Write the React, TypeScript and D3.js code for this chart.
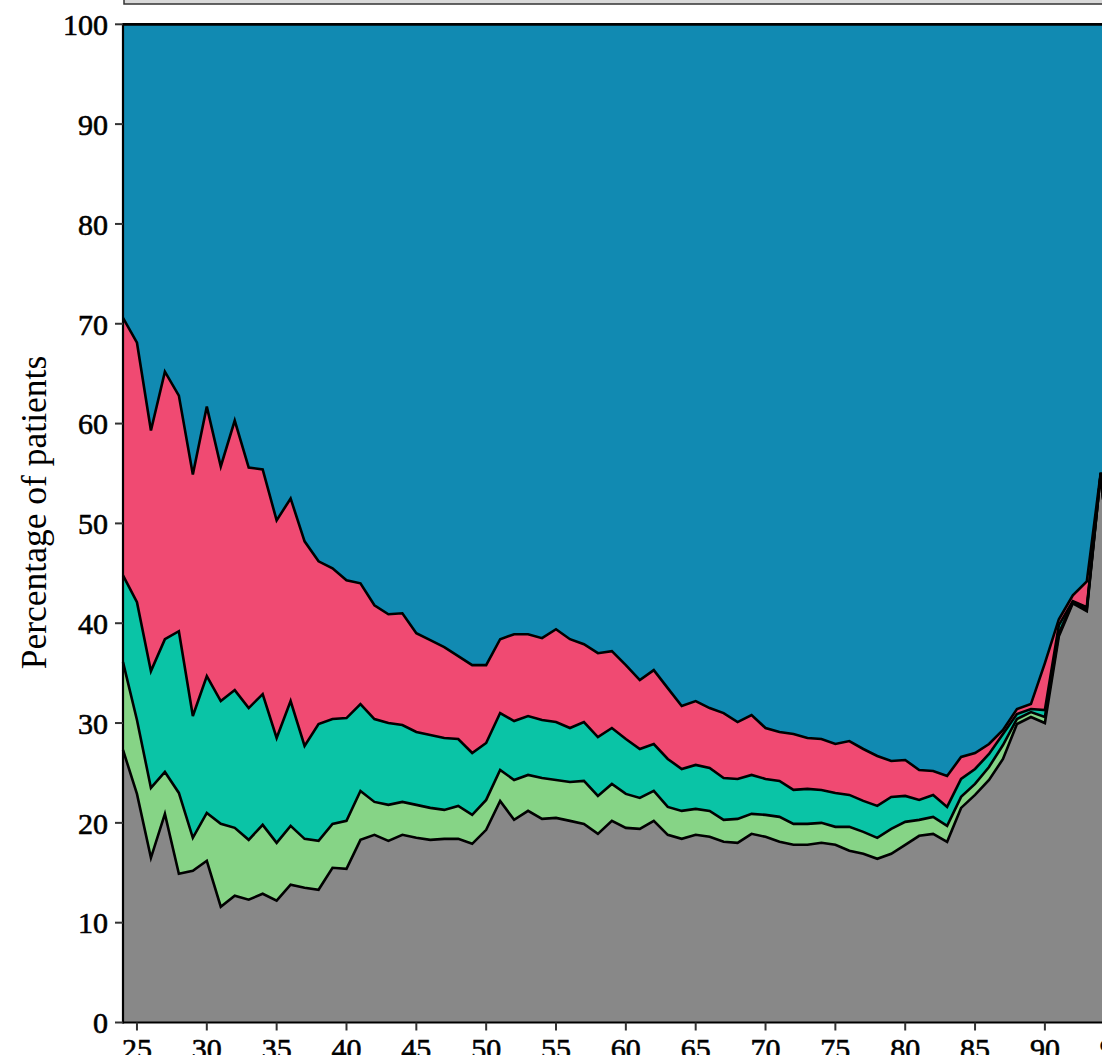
import React, { useEffect, useRef } from 'react';
import * as d3 from 'd3';

// ages 24..95, one point per year
const ages = d3.range(24, 96);

// share of patients (%) per group
const grayValues = [
  27.3, 22.9, 16.5, 20.9, 14.9, 15.2, 16.2, 11.6, 12.7, 12.3, 12.9, 12.2, 13.8, 13.5, 13.3, 15.5,
  15.4, 18.3, 18.8, 18.2, 18.8, 18.5, 18.3, 18.4, 18.4, 17.9, 19.3, 22.2, 20.3, 21.2, 20.4, 20.5,
  20.2, 19.9, 18.9, 20.2, 19.5, 19.4, 20.2, 18.8, 18.4, 18.8, 18.6, 18.1, 18.0, 18.9, 18.6, 18.1,
  17.8, 17.8, 18.0, 17.8, 17.2, 16.9, 16.4, 16.9, 17.8, 18.7, 18.9, 18.1, 21.5, 22.8, 24.3, 26.4,
  29.9, 30.6, 30.0, 38.7, 42.0, 41.2, 55.0, 40.0,
];
const greenValues = [
  8.8, 7.4, 7.0, 4.2, 8.1, 3.3, 4.8, 8.3, 6.8, 6.0, 6.9, 5.8, 5.9, 4.9, 4.9, 4.4,
  4.8, 4.9, 3.3, 3.6, 3.3, 3.3, 3.2, 2.9, 3.3, 2.9, 3.0, 3.1, 4.0, 3.6, 4.1, 3.8,
  3.9, 4.3, 3.8, 3.7, 3.4, 3.1, 3.0, 2.8, 2.8, 2.6, 2.6, 2.2, 2.4, 2.0, 2.2, 2.5,
  2.1, 2.1, 2.0, 1.8, 2.4, 2.2, 2.1, 2.5, 2.3, 1.6, 1.7, 1.6, 1.1, 1.1, 1.3, 1.4,
  0.5, 0.5, 0.6, 0.3, 0.1, 0.2, 0.0, 0.2,
];
const tealValues = [
  8.7, 11.8, 11.7, 13.3, 16.2, 12.2, 13.7, 12.3, 13.8, 13.2, 13.1, 10.5, 12.5, 9.3, 11.7, 10.5,
  10.3, 8.7, 8.3, 8.2, 7.7, 7.3, 7.3, 7.2, 6.7, 6.2, 5.7, 5.7, 5.9, 5.9, 5.8, 5.8,
  5.4, 5.9, 5.9, 5.6, 5.5, 4.9, 4.7, 4.8, 4.2, 4.4, 4.3, 4.2, 4.0, 3.9, 3.6, 3.6,
  3.4, 3.5, 3.3, 3.4, 3.2, 3.1, 3.2, 3.2, 2.6, 2.0, 2.2, 1.9, 1.8, 1.5, 1.3, 1.1,
  0.5, 0.3, 0.7, 0.8, 0.1, 0.2, 0.0, 0.1,
];
const pinkValues = [
  25.8, 26.0, 24.1, 26.8, 23.6, 24.2, 27.0, 23.5, 27.0, 24.1, 22.5, 21.8, 20.3, 20.5, 16.3, 15.1,
  13.8, 12.1, 11.4, 10.9, 11.2, 9.9, 9.5, 9.1, 8.3, 8.8, 7.8, 7.4, 8.7, 8.2, 8.2, 9.3,
  8.9, 7.8, 8.4, 7.7, 7.4, 6.9, 7.4, 7.1, 6.3, 6.4, 6.0, 6.5, 5.7, 6.0, 5.1, 4.9,
  5.6, 5.1, 5.1, 4.9, 5.4, 5.2, 5.0, 3.6, 3.6, 3.0, 2.4, 3.1, 2.2, 1.6, 1.0, 0.4,
  0.5, 0.5, 4.7, 0.6, 0.6, 2.6, 0.1, 0.2,
];
const blueValues = [
  29.4, 31.9, 40.7, 34.8, 37.2, 45.1, 38.3, 44.3, 39.7, 44.4, 44.6, 49.7, 47.5, 51.8, 53.8, 54.5,
  55.7, 56.0, 58.2, 59.1, 59.0, 61.0, 61.7, 62.4, 63.3, 64.2, 64.2, 61.6, 61.1, 61.1, 61.5, 60.6,
  61.6, 62.1, 63.0, 62.8, 64.2, 65.7, 64.7, 66.5, 68.3, 67.8, 68.5, 69.0, 69.9, 69.2, 70.5, 70.9,
  71.1, 71.5, 71.6, 72.1, 71.8, 72.6, 73.3, 73.8, 73.7, 74.7, 74.8, 75.3, 73.4, 73.0, 72.1, 70.7,
  68.6, 68.1, 64.0, 59.6, 57.2, 55.8, 44.9, 59.5,
];

const seriesKeys = ['gray', 'green', 'teal', 'pink', 'blue'];
const seriesColors = ['#888888', '#86d486', '#0ac4a6', '#f04a72', '#118ab2'];

const yTicks = [0, 10, 20, 30, 40, 50, 60, 70, 80, 90, 100];
const xTicks = [25, 30, 35, 40, 45, 50, 55, 60, 65, 70, 75, 80, 85, 90, 95];

const font = '"Liberation Serif", "Times New Roman", serif';

export default function App() {
  const svgRef = useRef<SVGSVGElement>(null);

  useEffect(() => {
    if (!svgRef.current) return;
    const svg = d3.select(svgRef.current);
    svg.selectAll('*').remove();

    const left = 123;
    const top = 24.3;
    const bottom = 1022.5;

    const x = d3.scaleLinear().domain([24, 95]).range([left, left + 71 * 13.968]);
    const y = d3.scaleLinear().domain([0, 100]).range([bottom, top]);

    const rows = ages.map((age, i) => ({
      age,
      gray: grayValues[i],
      green: greenValues[i],
      teal: tealValues[i],
      pink: pinkValues[i],
      blue: blueValues[i],
    }));

    const layers = d3.stack<any>().keys(seriesKeys)(rows);

    const area = d3.area<any>()
      .x(d => x(d.data.age))
      .y0(d => y(d[0]))
      .y1(d => y(d[1]));

    const topLine = d3.line<any>()
      .x(d => x(d.data.age))
      .y(d => y(Math.min(100, d[1])));

    // legend box, mostly cut off at the top
    svg.append('rect')
      .attr('x', 124)
      .attr('y', -60)
      .attr('width', 1100)
      .attr('height', 64)
      .attr('fill', '#d9d9d9')
      .attr('stroke', '#333333')
      .attr('stroke-width', 1.5);

    const g = svg.append('g');

    layers.forEach((layer, i) => {
      g.append('path')
        .datum(layer)
        .attr('d', area)
        .attr('fill', seriesColors[i]);
    });

    layers.forEach(layer => {
      g.append('path')
        .datum(layer)
        .attr('d', topLine)
        .attr('fill', 'none')
        .attr('stroke', '#000')
        .attr('stroke-width', 2.6)
        .attr('stroke-linejoin', 'miter');
    });

    // spines
    svg.append('line')
      .attr('x1', left).attr('x2', 1200).attr('y1', top).attr('y2', top)
      .attr('stroke', '#000').attr('stroke-width', 2.2);
    svg.append('line')
      .attr('x1', left).attr('x2', 1200).attr('y1', bottom).attr('y2', bottom)
      .attr('stroke', '#000').attr('stroke-width', 2.2);
    svg.append('line')
      .attr('x1', left).attr('x2', left).attr('y1', top - 1.1).attr('y2', bottom + 1.1)
      .attr('stroke', '#000').attr('stroke-width', 2.2);

    // y axis ticks
    yTicks.forEach(t => {
      svg.append('line')
        .attr('x1', left - 8).attr('x2', left)
        .attr('y1', y(t)).attr('y2', y(t))
        .attr('stroke', '#333').attr('stroke-width', 2);
      svg.append('text')
        .attr('x', left - 15)
        .attr('y', y(t))
        .attr('dy', '0.36em')
        .attr('text-anchor', 'end')
        .attr('font-family', font)
        .attr('font-size', '30px')
        .attr('fill', '#000')
        .attr('stroke', '#000')
        .attr('stroke-width', 0.6)
        .text(t);
    });

    // x axis ticks
    xTicks.forEach(t => {
      svg.append('line')
        .attr('x1', x(t)).attr('x2', x(t))
        .attr('y1', bottom).attr('y2', bottom + 8)
        .attr('stroke', '#333').attr('stroke-width', 2);
      svg.append('text')
        .attr('x', x(t))
        .attr('y', bottom + 36)
        .attr('text-anchor', 'middle')
        .attr('font-family', font)
        .attr('font-size', '30px')
        .attr('fill', '#000')
        .attr('stroke', '#000')
        .attr('stroke-width', 0.6)
        .text(t);
    });

    svg.append('text')
      .attr('transform', `translate(46, 512.5) rotate(-90)`)
      .attr('text-anchor', 'middle')
      .attr('font-family', font)
      .attr('font-size', '35.5px')
      .attr('fill', '#000')
      .text('Percentage of patients');
  }, []);

  return (
    <svg
      ref={svgRef}
      width={1102}
      height={1055}
      style={{ position: 'absolute', left: 0, top: 0, background: '#fff' }}
    />
  );
}
